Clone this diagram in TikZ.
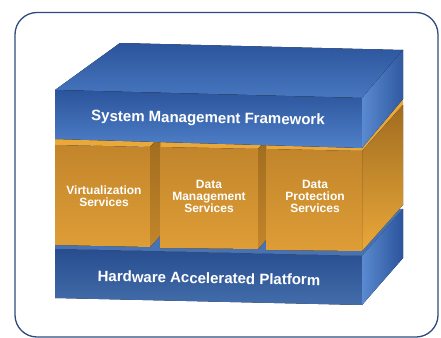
\documentclass[tikz,border=0pt]{standalone}
\usepackage{fontspec}
\setmainfont{Liberation Sans}
\usepackage{tkz-euclide}

\definecolor{ramec}{HTML}{2F4B7B}
\definecolor{modraTmava}{HTML}{2B549C}
\definecolor{modraSvetla}{HTML}{4F80C8}
\definecolor{modraBok}{HTML}{5A8AD0}
\definecolor{oranzTmava}{HTML}{C2852B}
\definecolor{oranzSvetla}{HTML}{DE9D36}
\definecolor{oranzHrana}{HTML}{EAA83A}
\definecolor{oranzStin}{HTML}{A06C1F}

\begin{document}
\begin{tikzpicture}[x=1pt,y=-1pt,
  slabtext/.style={text=white,inner sep=0pt,rotate=-1,
    font=\bfseries\fontsize{15}{15}\selectfont},
  blocktext/.style={text=white,inner sep=0pt,align=center,
    font=\bfseries\fontsize{12}{12}\selectfont}]
  \useasboundingbox (0,0) rectangle (441,337);
  \clip (0,0) rectangle (441,337);

  % --- RAMEC ---
  \draw[rounded corners=22pt, line width=1.3pt, color=ramec] (15,12.5) rectangle (438,337);

  % --- SPODNI DESKA (Hardware Accelerated Platform) ---
  \tkzDefPoint(55,202){C0} \tkzDefPoint(130,202){C1}
  \tkzDefPoint(403,209){C2} \tkzDefPoint(362,256){C3}
  \tkzDefPoint(55,249){C4} \tkzDefPoint(55,298){C5}
  \tkzDefPoint(362,305){C6} \tkzDefPoint(403,258){C7}

  \tkzFillPolygon[color=modraSvetla!90!black](C0,C1,C2,C3,C4) % horni plocha
  \tkzFillPolygon[top color=modraTmava!92!black, bottom color=modraSvetla!85!black](C4,C3,C6,C5) % celo
  \tkzFillPolygon[left color=modraBok, right color=modraTmava](C3,C2,C7,C6) % bok

  % --- STREDNI VRSTVA (tri bloky) ---
  \tkzDefPoint(55,139){O0} \tkzDefPoint(403,99){O9}
  \tkzDefPoint(55,145){O1} \tkzDefPoint(362,151){O2}
  \tkzDefPoint(403,105){O3} \tkzDefPoint(403,205){O4}
  \tkzDefPoint(362,251){O5}

  % horni hrana a bok vrstvy
  \tkzFillPolygon[color=oranzHrana](O0,O1,O2,O3,O9)
  \tkzFillPolygon[top color=oranzStin, bottom color=oranzHrana](O2,O3,O4,O5)

  % blok 1
  \tkzDefPoint(55,145){P1} \tkzDefPoint(150,147){P2}
  \tkzDefPoint(150,247){P3} \tkzDefPoint(55,245){P4}
  \tkzFillPolygon[top color=oranzTmava, bottom color=oranzSvetla](P1,P2,P3,P4)
  % mezera 1 (bok bloku 1)
  \tkzDefPoint(160,136){G1} \tkzDefPoint(160,236){G2}
  \tkzFillPolygon[top color=oranzStin, bottom color=oranzTmava](P2,G1,G2,P3)

  % blok 2
  \tkzDefPoint(160,147){Q1} \tkzDefPoint(258,149){Q2}
  \tkzDefPoint(258,249){Q3} \tkzDefPoint(160,248){Q4}
  \tkzFillPolygon[top color=oranzTmava, bottom color=oranzSvetla](Q1,Q2,Q3,Q4)
  % mezera 2 (bok bloku 2)
  \tkzDefPoint(266,140){H1} \tkzDefPoint(266,240){H2}
  \tkzFillPolygon[top color=oranzStin, bottom color=oranzTmava](Q2,H1,H2,Q3)

  % blok 3
  \tkzDefPoint(266,149){R1} \tkzDefPoint(266,250){R4}
  \tkzFillPolygon[top color=oranzTmava, bottom color=oranzSvetla](R1,O2,O5,R4)

  % --- HORNI DESKA (System Management Framework) ---
  \tkzDefPoint(120,43){A1} \tkzDefPoint(403,50){A2}
  \tkzDefPoint(362,98){A3} \tkzDefPoint(55,90){A4}
  \tkzDefPoint(55,139){A5} \tkzDefPoint(362,148){A6}
  \tkzDefPoint(403,99){A7}

  \tkzFillPolygon[top color=modraTmava, bottom color=modraSvetla!80!modraTmava](A1,A2,A3,A4) % horni plocha
  \tkzFillPolygon[top color=modraTmava, bottom color=modraSvetla](A4,A3,A6,A5) % celo
  \tkzFillPolygon[left color=modraBok, right color=modraTmava!90!modraBok](A3,A2,A7,A6) % bok

  % --- POPISKY ---
  \node[slabtext] (smf) at (208,119) {System Management Framework};
  \node[slabtext] (hap) at (209,278) {Hardware Accelerated Platform};
  \node[blocktext] (virt) at (104,196) {Virtualization\\Services};
  \node[blocktext] (dms) at (209,196) {Data\\Management\\Services};
  \node[blocktext] (dps) at (315,196) {Data\\Protection\\Services};

\end{tikzpicture}
\end{document}
